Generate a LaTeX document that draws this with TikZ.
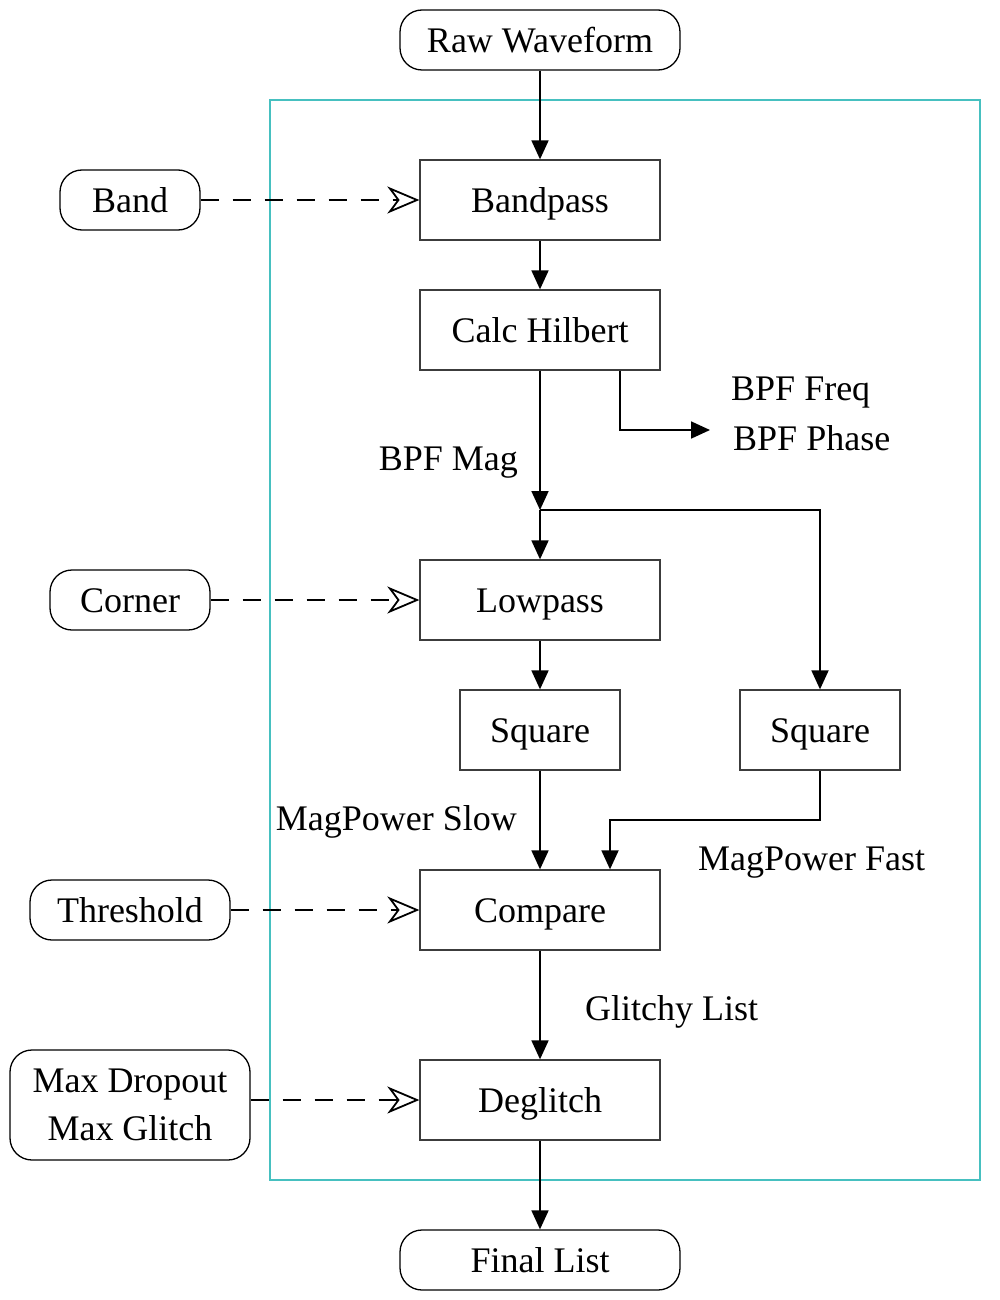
\documentclass[tikz,border=0pt]{standalone}
\usepackage{fontspec}
\setmainfont{Liberation Serif}
\usetikzlibrary{arrows.meta,calc}
\definecolor{framecyan}{RGB}{70,192,192}
\definecolor{boxgray}{RGB}{60,60,60}
\begin{document}
\begin{tikzpicture}[x=1pt,y=-1pt,
  font=\fontsize{36}{40}\selectfont,
  txt/.style={text height=24.5pt,text depth=0pt},
  procbox/.style={draw=boxgray,line width=1.3pt,minimum width=240pt,minimum height=80pt,inner sep=0pt,txt},
  sqbox/.style={draw=boxgray,line width=1.3pt,minimum width=160pt,minimum height=80pt,inner sep=0pt,txt},
  termbox/.style={draw=black,line width=1.3pt,rounded corners=22pt,minimum height=60pt,inner sep=0pt},
  flow/.style={line width=1.8pt,-{Triangle[length=19pt,width=17pt]}},
  param/.style={line width=1.8pt,dash pattern=on 18pt off 14pt,-{Stealth[open,length=32pt,width=27pt,inset=10pt,line width=1.8pt]}},
  lbl/.style={inner sep=0pt}]
\useasboundingbox (0,0) rectangle (1000,1300);
\fill[white] (0,0) rectangle (1000,1300);
% frame
\draw[framecyan,line width=1.3pt] (270,100) rectangle (980,1180);
% terminals
\node[termbox,minimum width=280pt,txt] (raw) at (540,40) {Raw Waveform};
\node[termbox,minimum width=280pt,txt] (final) at (540,1260) {Final List};
% process boxes
\node[procbox] (bandpass) at (540,200) {Bandpass};
\node[procbox] (hilbert) at (540,330) {Calc Hilbert};
\node[procbox] (lowpass) at (540,600) {Lowpass};
\node[sqbox] (sq1) at (540,730) {Square};
\node[sqbox] (sq2) at (820,730) {Square};
\node[procbox] (compare) at (540,910) {Compare};
\node[procbox] (deglitch) at (540,1100) {Deglitch};
% params
\node[termbox,minimum width=140pt,txt] (band) at (130,200) {Band};
\node[termbox,minimum width=160pt,txt] (corner) at (130,600) {Corner};
\node[termbox,minimum width=200pt,txt] (thresh) at (130,910) {Threshold};
\node[termbox,minimum width=240pt,minimum height=110pt,align=center] (maxd) at (130,1105) {Max Dropout\\[8pt]Max Glitch};
% labels
\node[lbl,anchor=base west] (bpffreq) at (731,400) {BPF Freq};
\node[lbl,anchor=base west] (bpfphase) at (733,450) {BPF Phase};
\node[lbl,anchor=base east] (bpfmag) at (518,470) {BPF Mag};
\node[lbl,anchor=base east] (mpslow) at (517,830) {MagPower Slow};
\node[lbl,anchor=base west] (mpfast) at (698,870) {MagPower Fast};
\node[lbl,anchor=base west] (glitchy) at (585,1020) {Glitchy List};
% coordinates
\coordinate (junc) at (540,510);
\coordinate (phaseend) at (710,430);
% flow
\draw[flow] (raw) -- (bandpass);
\draw[flow] (bandpass) -- (hilbert);
\draw[flow] ([xshift=80pt]hilbert.south) |- (phaseend);
\draw[flow] (hilbert) -- (junc);
\draw[flow] (junc) -- (lowpass);
\draw[flow] (junc) -| (sq2.north);
\draw[flow] (lowpass) -- (sq1);
\draw[flow] (sq1) -- (compare);
\draw[flow] (sq2.south) |- ($(sq2.south)!0.5!(sq2.south|-compare.north)$) -| ([xshift=70pt]compare.north);
\draw[flow] (compare) -- (deglitch);
\draw[flow] (deglitch) -- (final);
% params arrows
\draw[param] (band) -- (bandpass);
\draw[param] (corner) -- (lowpass);
\draw[param] (thresh) -- (compare);
\draw[param] (maxd.east|-deglitch) -- (deglitch);
\end{tikzpicture}
\end{document}
